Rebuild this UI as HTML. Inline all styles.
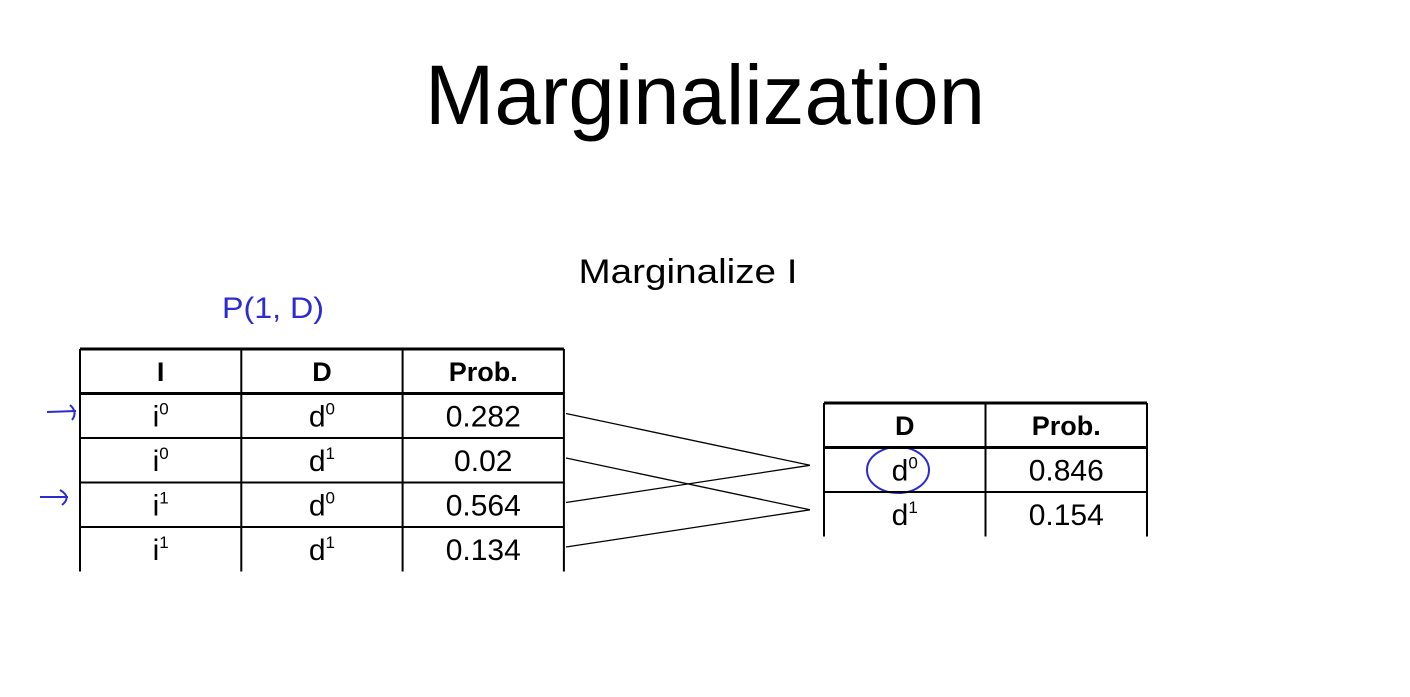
<!DOCTYPE html>
<html><head><meta charset="utf-8"><style>
body{margin:0;background:#fff;}
svg{display:block;font-family:"Liberation Sans",sans-serif;}
</style></head><body>
<svg id="s" width="1410" height="697" viewBox="0 0 1410 697">
<text x="705" y="124" text-anchor="middle" font-size="84" textLength="560" lengthAdjust="spacingAndGlyphs">Marginalization</text>
<text x="688" y="283" text-anchor="middle" font-size="34" textLength="219" lengthAdjust="spacingAndGlyphs">Marginalize I</text>
<text x="222" y="318" font-size="30" fill="#2b2bd0" textLength="102" lengthAdjust="spacingAndGlyphs">P(1, D)</text>
<path d="M47 412 L76 411 M70 405 Q78 412 72 420" stroke="#2b2bd0" stroke-width="2" fill="none"/>
<path d="M40 497 L68 497 M60 490 Q72 497 62 505" stroke="#2b2bd0" stroke-width="2" fill="none"/>
<ellipse cx="898" cy="470" rx="31" ry="23" stroke="#2b2bd0" stroke-width="2" fill="none"/>
<g id="g"></g>
</svg>
<script>
const jointI=["0","0","1","1"];
const jointD=["0","1","0","1"];
const jointP=["0.282","0.02","0.564","0.134"];
const margD=["0","1"];
const margP=["0.846","0.154"];
const NS="http://www.w3.org/2000/svg";
const g=document.getElementById('g');
function mk(t,a,txt){const e=document.createElementNS(NS,t);for(const k in a)e.setAttribute(k,a[k]);if(txt!==undefined)e.textContent=txt;g.appendChild(e);return e;}
function table(x0,y0,cw,rh,heads,rows,name){
  const nc=heads.length,nr=rows.length+1;
  const W=cw*nc,H=rh*nr;
  for(let r=0;r<nr;r++){const l=mk('line',{x1:x0,x2:x0+W,y1:y0+r*rh,y2:y0+r*rh,stroke:'#000','stroke-width':r<2?3:2});
  
  }
  for(let c=0;c<=nc;c++){const l=mk('line',{x1:x0+c*cw,x2:x0+c*cw,y1:y0,y2:y0+H,stroke:'#000','stroke-width':2});
  
  }
  heads.forEach((h,c)=>{const t=mk('text',{x:x0+c*cw+cw/2,y:y0+rh*0.72,'text-anchor':'middle','font-size':27,'font-weight':'bold'},h);
  
  });
  rows.forEach((row,r)=>row.forEach((cell,c)=>{
    const t=mk('text',{x:x0+c*cw+cw/2,y:y0+(r+1)*rh+rh*0.74,'text-anchor':'middle','font-size':30});
    
    
    if(typeof cell==='object'){t.textContent=cell.base;const s=document.createElementNS(NS,'tspan');s.setAttribute('font-size','17');s.setAttribute('dy','-12');s.textContent=cell.sup;t.appendChild(s);}
    else t.textContent=cell;
  }));
}
const colW=161.3,rowH=44.5;
table(80,349,colW,rowH,["I","D","Prob."],jointP.map((p,i)=>[{base:"i",sup:jointI[i]},{base:"d",sup:jointD[i]},p]),'joint-table');
table(824,403,161.5,44.5,["D","Prob."],margP.map((p,i)=>[{base:"d",sup:margD[i]},p]),'marginal-table');
jointD.forEach((d,i)=>{
  const y1=349+(i+1)*rowH+rowH*0.45;
  const y2=403+(margD.indexOf(d)+1)*44.5+44.5*0.4;
  const l=mk('line',{x1:566,y1:y1,x2:810,y2:y2,stroke:'#000','stroke-width':1.3});
  
  
});
</script>
</body></html>
